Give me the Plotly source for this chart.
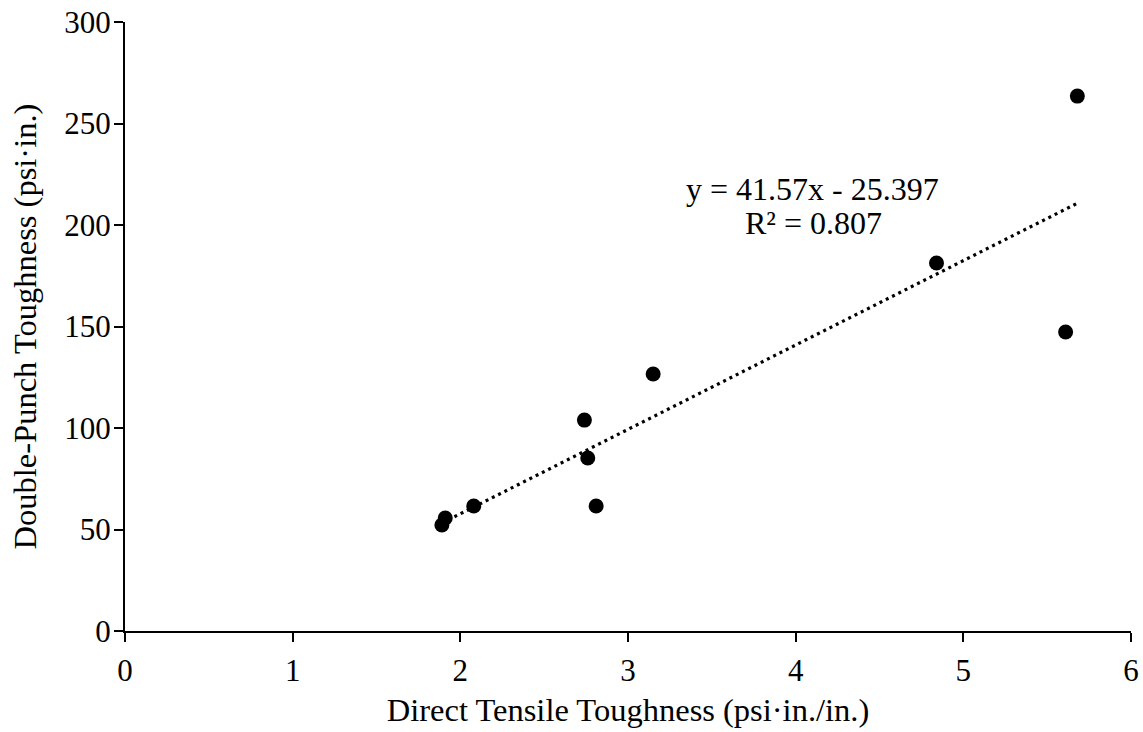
import numpy as np
import plotly.graph_objects as go

# measured points
direct_tensile = [1.89, 1.91, 2.08, 2.74, 2.76, 2.81, 3.15, 4.84, 5.61, 5.68]
double_punch = [52.2, 55.7, 61.6, 103.9, 85.2, 61.6, 126.6, 181.3, 147.3, 263.5]

slope = 41.57
intercept = -25.397
r_squared = 0.807

font = "Liberation Serif, Times New Roman, serif"

fig = go.Figure()

# linear trendline over the data range
x_fit = np.array([min(direct_tensile), max(direct_tensile)])
y_fit = slope * x_fit + intercept
fig.add_trace(go.Scatter(
    x=x_fit, y=y_fit, mode="lines",
    line=dict(color="black", width=3.2, dash="3px,4px"),
    hoverinfo="skip", showlegend=False
))

fig.add_trace(go.Scatter(
    x=direct_tensile, y=double_punch, mode="markers",
    marker=dict(color="black", size=15),
    showlegend=False
))

# equation and R² as two lines (tighter spacing than a <br>)
fig.add_annotation(
    x=4.10, y=217.7, xref="x", yref="y",
    text=f"y = {slope}x - {abs(intercept)}",
    showarrow=False, font=dict(family=font, size=32, color="black")
)
fig.add_annotation(
    x=4.106, y=201.0, xref="x", yref="y",
    text=f"R² = {r_squared}",
    showarrow=False, font=dict(family=font, size=32, color="black")
)

axis_style = dict(
    showgrid=False, zeroline=False, showline=True, linecolor="black", linewidth=2,
    ticks="outside", ticklen=9, tickwidth=2, tickcolor="black",
    ticklabeloverflow="allow", automargin=False,
    tickfont=dict(family=font, size=31, color="black"),
    title_font=dict(family=font, size=32.5, color="black"),
)

fig.update_xaxes(range=[0, 6], dtick=1, title_text="Direct Tensile Toughness (psi·in./in.)",
                 ticklabelstandoff=2, title_standoff=11, **axis_style)
fig.update_yaxes(range=[0, 300], dtick=50, title_text="Double-Punch Toughness (psi·in.)",
                 ticklabelstandoff=-3, title_standoff=18, **axis_style)

fig.update_layout(
    width=1143, height=732,
    margin=dict(l=125, r=12, t=22, b=101, autoexpand=False),
    plot_bgcolor="white", paper_bgcolor="white",
)

# drop the default page margin so the figure fills the window exactly
fig.write_html("out.html", config={"displayModeBar": False},
               post_script="document.body.style.margin='0';")
